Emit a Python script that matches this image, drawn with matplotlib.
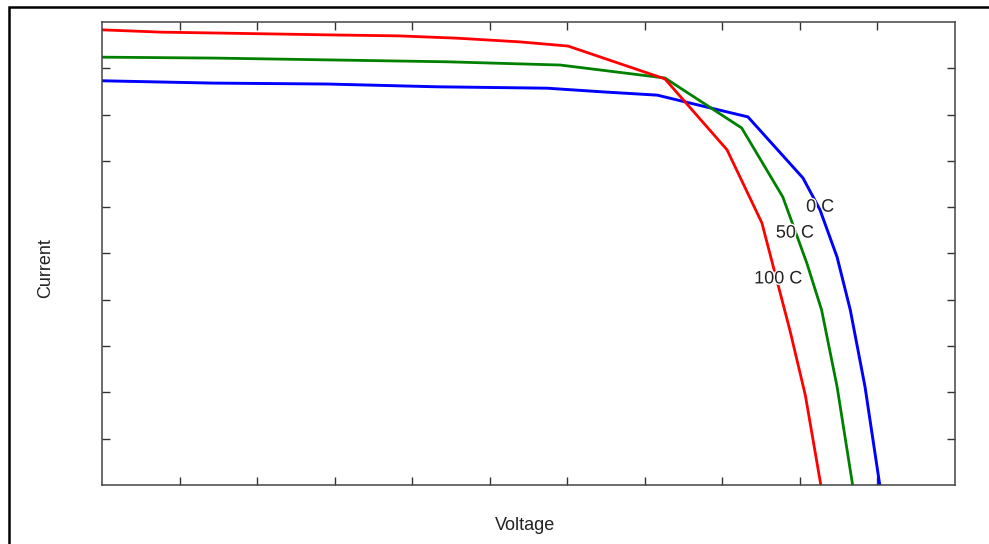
import numpy as np
import matplotlib
matplotlib.use("Agg")
import matplotlib.pyplot as plt
import matplotlib.patheffects as pe
from matplotlib.patches import Rectangle

plt.rcParams['font.family'] = ['Liberation Sans', 'DejaVu Sans']

# I-V curves (voltage, current in arbitrary units)
v_100 = [0.0, 0.77, 1.53, 2.98, 3.82, 4.58, 5.39, 6.01, 7.26, 8.06, 8.51, 8.87, 9.07, 9.27]
i_100 = [9.83, 9.78, 9.76, 9.72, 9.70, 9.65, 9.57, 9.48, 8.77, 7.24, 5.66, 3.35, 1.94, 0.0]

v_50 = [0.0, 1.46, 2.96, 4.45, 5.91, 7.26, 8.25, 8.78, 9.09, 9.28, 9.48, 9.68]
i_50 = [9.24, 9.22, 9.18, 9.14, 9.07, 8.79, 7.71, 6.22, 4.79, 3.78, 2.12, 0.0]

v_0 = [0.0, 1.43, 2.90, 4.32, 5.74, 6.46, 7.16, 7.58, 8.33, 9.04, 9.26, 9.48, 9.65, 9.84, 10.03]
i_0 = [8.73, 8.68, 8.66, 8.60, 8.57, 8.49, 8.42, 8.25, 7.95, 6.63, 5.94, 4.92, 3.78, 2.12, 0.0]

etykiety = ["0 C", "50 C", "100 C"]
etyk_x = [9.08, 8.69, 8.41]
etyk_y = [6.0, 5.44, 4.45]

fig = plt.figure(figsize=(9.89, 5.44), dpi=100)
ax = fig.add_axes([0.1031, 0.1085, 0.8625, 0.8511])

ax.plot(v_0, i_0, color='#0000ff', lw=2.1)
ax.plot(v_50, i_50, color='#008000', lw=2.0)
ax.plot(v_100, i_100, color='#ff0000', lw=2.0)

for t, x, y in zip(etykiety, etyk_x, etyk_y):
    ax.text(x, y, t, fontsize=13, color='#222222', va='center', ha='left',
            path_effects=[pe.withStroke(linewidth=2, foreground='white')])

ax.set_xlim(0, 11)
ax.set_ylim(0, 10)
ax.set_xticks(np.arange(1, 11))
ax.set_yticks(np.arange(1, 10))
ax.tick_params(direction='in', length=5.8, width=1.0, color='#333333',
               top=True, right=True, labelbottom=False, labelleft=False)
for s in ax.spines.values():
    s.set_color('#444444')
    s.set_linewidth(1.1)

fig.text(525 / 989, 1 - 526 / 544, 'Voltage', fontsize=13, color='#222222', ha='center', va='center')
fig.text(46 / 989, 1 - 268 / 544, 'Current', fontsize=13, color='#222222', ha='center', va='center', rotation=90)

# ramka wokol rysunku
fig.add_artist(Rectangle((8.5 / 989, -0.2), 1.2, 1.2 - 6.5 / 544, transform=fig.transFigure,
                         fill=False, edgecolor='black', lw=1.8))

fig.savefig('out.png', dpi=100)
